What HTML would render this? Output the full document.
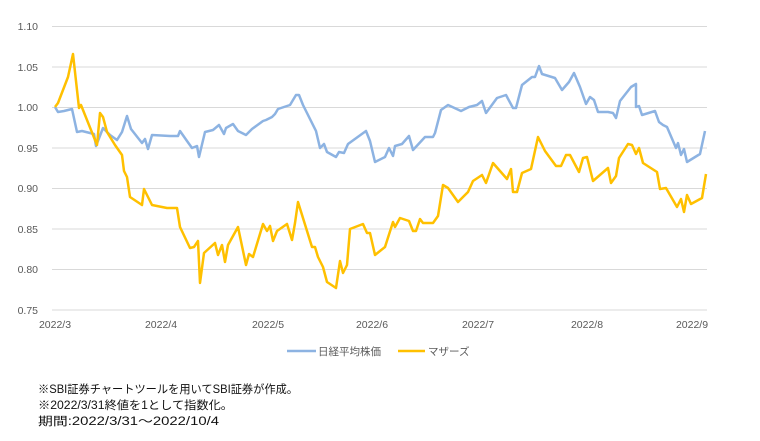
<!DOCTYPE html>
<html><head><meta charset="utf-8"><style>
html,body{margin:0;padding:0;background:#fff;width:760px;height:441px;overflow:hidden}
svg{display:block}
text{font-family:"Liberation Sans","Noto Sans CJK JP",sans-serif}
</style></head><body>
<svg width="760" height="441" viewBox="0 0 760 441">
<g stroke="#d9d9d9" stroke-width="1">
<line x1="52" x2="707" y1="26.5" y2="26.5"/><line x1="52" x2="707" y1="67" y2="67"/>
<line x1="52" x2="707" y1="107.5" y2="107.5"/><line x1="52" x2="707" y1="148" y2="148"/>
<line x1="52" x2="707" y1="188.5" y2="188.5"/><line x1="52" x2="707" y1="229" y2="229"/>
<line x1="52" x2="707" y1="269.5" y2="269.5"/><line x1="52" x2="707" y1="310" y2="310"/>
</g>
<g font-size="10.5" fill="#595959" text-anchor="end">
<text x="38" y="30">1.10</text><text x="38" y="71">1.05</text><text x="38" y="111">1.00</text>
<text x="38" y="152">0.95</text><text x="38" y="192">0.90</text><text x="38" y="233">0.85</text>
<text x="38" y="273">0.80</text><text x="38" y="314">0.75</text>
</g>
<g font-size="10.5" fill="#595959" text-anchor="middle">
<text x="55" y="328">2022/3</text><text x="161" y="328">2022/4</text><text x="268" y="328">2022/5</text>
<text x="372" y="328">2022/6</text><text x="478" y="328">2022/7</text><text x="587" y="328">2022/8</text>
<text x="692" y="328">2022/9</text>
</g>
<polyline fill="none" stroke="#8db3e2" stroke-width="2.5" stroke-linejoin="round" points="55,107 58,112 64,111 72,109 77,132 82,131 94,134 96,146 103,128 110,135 117,140 122,132 127,116 131,129 142,143 145,139 148,149 152,135 170,136 178,136 180,131 187,141 192,148 197,146 199,157 205,132 213,130 219,125 224,134 226,128 233,124 238,131 246,135 252,129 263,121 266,120 272,117 275,114 278,109 290,105 296,95 299,95 303,105 316,131 320,148 324,144 327,152 336,157 339,152 344,153 348,144 366,131 370,141 375,162 385,157 389,148 393,156 395,146 402,144 409,136 413,150 425,137 433,137 435,133 441,110 448,105 461,111 469,107 477,105 482,101 486,113 497,98 506,95 513,108 516,108 522,85 532,77 535,77 539,66 542,74 555,78 562,90 569,82 574,73 580,87 586,104 590,97 594,100 598,112 608,112 613,113 616,118 620,101 631,87 636,84 636,107 639,106 642,115 655,111 659,122 663,125 667,127 676,148 678,143 681,155 684,149 687,162 700,154 705,131"/>
<polyline fill="none" stroke="#ffc000" stroke-width="2.5" stroke-linejoin="round" points="55,107 58,103 68,77 73,54 79,108 81,105 97,145 100,113 103,117 107,132 115,145 122,155 124,171 127,177 130,197 142,205 144,189 152,205 167,208 177,208 180,227 190,248 194,247 198,241 200,283 204,253 215,243 218,255 222,245 225,262 228,245 238,227 246,265 249,254 253,257 263,224 267,231 270,226 273,241 277,231 287,224 292,240 295,223 298,202 312,247 315,247 318,257 323,267 327,282 336,288 340,261 343,273 347,265 350,229 363,224 367,233 370,233 375,255 385,247 393,222 395,227 400,218 409,221 413,231 416,231 420,219 423,223 433,223 438,216 443,185 448,188 458,202 468,192 473,181 482,175 486,183 493,163 507,179 511,169 513,192 517,192 522,173 531,169 538,137 545,151 556,166 561,166 566,155 570,155 579,172 583,158 587,157 593,181 608,168 611,183 616,176 619,158 628,144 632,145 636,154 639,148 643,163 657,172 660,189 666,188 677,207 681,199 684,212 687,195 691,204 702,198 706,174"/>
<line x1="287" x2="316" y1="351" y2="351" stroke="#8db3e2" stroke-width="2.5"/>
<text x="318" y="355" font-size="10.5" fill="#595959">日経平均株価</text>
<line x1="398" x2="425" y1="351" y2="351" stroke="#ffc000" stroke-width="2.5"/>
<text x="428" y="355" font-size="10.5" fill="#595959">マザーズ</text>
<g font-size="11.5" fill="#111">
<text x="38" y="393" textLength="260" lengthAdjust="spacingAndGlyphs">※SBI証券チャートツールを用いてSBI証券が作成。</text>
<text x="38" y="409" textLength="195" lengthAdjust="spacingAndGlyphs">※2022/3/31終値を1として指数化。</text>
<text x="38" y="425" textLength="181" lengthAdjust="spacingAndGlyphs">期間:2022/3/31～2022/10/4</text>
</g>
</svg>
</body></html>
